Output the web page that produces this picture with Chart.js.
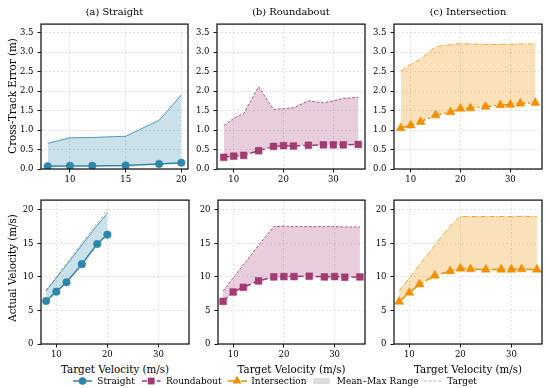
<!DOCTYPE html>
<html><head><meta charset="utf-8">
<script src="https://cdn.jsdelivr.net/npm/chart.js@4.4.1/dist/chart.umd.min.js"></script>
<style>
body{margin:0;width:550px;height:388px;background:#fff;position:relative;overflow:hidden;font-family:"DejaVu Serif",serif;color:#000}
canvas{position:absolute}
.t{position:absolute;white-space:nowrap;line-height:1;color:#000}
svg{position:absolute;left:0;top:0}
</style></head><body>
<script>
// ---- data ----
const speedsStraight = [8, 10, 12, 15, 18, 20];
const speedsTurn = [8, 10, 12, 15, 18, 20, 22, 25, 28, 30, 32, 35];

const cteStraightMean = [0.07, 0.08, 0.08, 0.09, 0.13, 0.16];
const cteStraightMax  = [0.66, 0.80, 0.81, 0.84, 1.25, 1.90];
const cteRoundMean = [0.30, 0.33, 0.35, 0.47, 0.58, 0.60, 0.59, 0.61, 0.62, 0.62, 0.62, 0.63];
const cteRoundMax  = [1.11, 1.30, 1.42, 2.11, 1.53, 1.55, 1.57, 1.75, 1.70, 1.75, 1.81, 1.84];
const cteInterMean = [1.05, 1.12, 1.21, 1.38, 1.46, 1.55, 1.56, 1.60, 1.64, 1.65, 1.68, 1.70];
const cteInterMax  = [2.51, 2.69, 2.82, 3.14, 3.19, 3.22, 3.21, 3.20, 3.20, 3.20, 3.21, 3.21];

const velStraightMean = [6.4, 7.8, 9.2, 11.9, 14.9, 16.3];
const velStraightMax  = [7.9, 9.85, 11.8, 14.75, 17.65, 19.5];
const velStraightTarget = [8, 10, 12, 15, 18, 20];
const velRoundMean = [6.35, 7.75, 8.45, 9.4, 10.0, 10.05, 10.05, 10.1, 10.0, 10.05, 9.95, 10.0];
const velRoundMax  = [7.9, 9.85, 11.8, 14.7, 17.5, 17.55, 17.5, 17.5, 17.5, 17.5, 17.45, 17.45];
const velInterMean = [6.3, 7.65, 8.9, 10.2, 10.85, 11.25, 11.15, 11.1, 11.1, 11.1, 11.15, 11.1];
const velInterMax  = [7.9, 9.85, 11.8, 14.7, 17.6, 19.0, 19.0, 19.0, 19.0, 19.0, 19.0, 19.0];

const xTicksStraightTop = [10, 15, 20];
const xTicksWide = [10, 20, 30];
const yTicksCte = [0, 0.5, 1.0, 1.5, 2.0, 2.5, 3.0, 3.5];
const yTicksVel = [0, 5, 10, 15, 20];

const titles = ['(a) Straight', '(b) Roundabout', '(c) Intersection'];
const legendLabels = ['Straight', 'Roundabout', 'Intersection', 'Mean\u2013Max Range', 'Target'];

// ---- styles ----
const FAM = '"DejaVu Serif", serif';
const C1 = '#2E86AB', C2 = '#A23B72', C3 = '#F18F01';
const F1 = 'rgba(46,134,171,0.25)', F2 = 'rgba(162,59,114,0.25)', F3 = 'rgba(241,143,1,0.27)';
const L1 = 'rgba(46,134,171,0.9)', L2 = 'rgba(162,59,114,0.9)', L3 = 'rgba(241,143,1,0.9)';
const DASH = [6, 3], DASHDOT = [9, 3, 2, 3];

const framePlugin = {
  id: 'frame',
  afterDraw(chart) {
    const a = chart.chartArea, ctx = chart.ctx;
    ctx.save();
    ctx.strokeStyle = '#111'; ctx.lineWidth = 1.25;
    ctx.strokeRect(a.left, a.top, a.right - a.left, a.bottom - a.top);
    ctx.restore();
  }
};

function pts(xs, ys) { return xs.map((x, i) => ({ x: x, y: ys[i] })); }

function meanDs(xs, ys, col, style, r, dash) {
  return { data: pts(xs, ys), borderColor: col, backgroundColor: col, borderWidth: 1.5,
    borderDash: dash, pointStyle: style, pointRadius: r, pointBackgroundColor: col,
    pointBorderColor: col, pointBorderWidth: 0.5, fill: false };
}
function maxDs(xs, ys, lcol, fcol, dash) {
  return { data: pts(xs, ys), borderColor: lcol, backgroundColor: fcol, borderWidth: 0.9,
    borderDash: dash, pointRadius: 0, fill: '-1' };
}
function targetDs(xs, ys) {
  return { data: pts(xs, ys), borderColor: 'rgba(110,110,110,0.6)', borderWidth: 0.9,
    borderDash: [3, 2], pointRadius: 0, fill: false };
}

function panel(box, xMin, xMax, xTicks, yMin, yMax, yTicks, yFmt, datasets) {
  const PL = 32, PR = 4, PT = 4, PB = 16;
  const W = box.w + PL + PR, H = box.h + PT + PB;
  const c = document.createElement('canvas');
  c.width = W; c.height = H;
  c.style.left = (box.l - PL) + 'px'; c.style.top = (box.t - PT) + 'px';
  c.style.width = W + 'px'; c.style.height = H + 'px';
  document.body.appendChild(c);
  const grid = { color: 'rgba(0,0,0,0.14)', lineWidth: 0.8, tickLength: 3.5, tickColor: '#000', tickWidth: 0.9, drawTicks: true };
  new Chart(c, {
    type: 'line',
    data: { datasets: datasets },
    options: {
      responsive: false, animation: false, devicePixelRatio: 1,
      layout: { padding: { top: PT, right: PR, left: 0, bottom: 0 }, autoPadding: false },
      plugins: { legend: { display: false }, tooltip: { enabled: false } },
      elements: { line: { tension: 0 } },
      scales: {
        x: { type: 'linear', min: xMin, max: xMax,
          afterFit: s => { s.height = PB; },
          afterBuildTicks: s => { s.ticks = xTicks.map(v => ({ value: v })); },
          ticks: { color: '#000', font: { family: FAM, size: 8.5 }, padding: 2, maxRotation: 0, minRotation: 0, autoSkip: false, callback: v => String(v) },
          grid: grid, border: { display: false, dash: [2, 2] } },
        y: { type: 'linear', min: yMin, max: yMax,
          afterFit: s => { s.width = PL; },
          afterBuildTicks: s => { s.ticks = yTicks.map(v => ({ value: v })); },
          ticks: { color: '#000', font: { family: FAM, size: 8.5 }, padding: 4, autoSkip: false, callback: yFmt },
          grid: grid, border: { display: false, dash: [2, 2] } }
      }
    },
    plugins: [framePlugin]
  });
}

function txt(s, cx, cy, size, rot) {
  const d = document.createElement('div');
  d.className = 't'; d.textContent = s;
  d.style.fontSize = size + 'px';
  d.style.left = cx + 'px'; d.style.top = cy + 'px';
  d.style.transform = 'translate(-50%,-50%)' + (rot ? ' rotate(' + rot + 'deg)' : '');
  document.body.appendChild(d);
}
function txtL(s, x, cy, size) {
  const d = document.createElement('div');
  d.className = 't'; d.textContent = s;
  d.style.fontSize = size + 'px';
  d.style.left = x + 'px'; d.style.top = cy + 'px';
  d.style.transform = 'translateY(-50%)';
  document.body.appendChild(d);
}

const fmt1 = v => Number(v).toFixed(1);
const fmt0 = v => String(v);

const topBoxes = [ { l: 41, t: 19, w: 147, h: 150 }, { l: 217, t: 19, w: 148, h: 150 }, { l: 394, t: 19, w: 148, h: 150 } ];
const botBoxes = [ { l: 41, t: 195, w: 148, h: 149 }, { l: 218, t: 195, w: 147, h: 149 }, { l: 394, t: 195, w: 148, h: 149 } ];

// top row: cross-track error
panel(topBoxes[0], 7.4, 20.6, xTicksStraightTop, 0, 3.72, yTicksCte, fmt1, [
  meanDs(speedsStraight, cteStraightMean, C1, 'circle', 3.8, []),
  maxDs(speedsStraight, cteStraightMax, L1, F1, [])
]);
panel(topBoxes[1], 6.65, 36.35, xTicksWide, 0, 3.72, yTicksCte, fmt1, [
  meanDs(speedsTurn, cteRoundMean, C2, 'rect', 4.8, DASH),
  maxDs(speedsTurn, cteRoundMax, L2, F2, [3, 1.5])
]);
panel(topBoxes[2], 6.65, 36.35, xTicksWide, 0, 3.72, yTicksCte, fmt1, [
  meanDs(speedsTurn, cteInterMean, C3, 'triangle', 5.2, DASHDOT),
  maxDs(speedsTurn, cteInterMax, L3, F3, [5, 1.5, 1, 1.5])
]);
// bottom row: velocity
panel(botBoxes[0], 7, 36, xTicksWide, 0, 21.45, yTicksVel, fmt0, [
  meanDs(speedsStraight, velStraightMean, C1, 'circle', 3.8, []),
  maxDs(speedsStraight, velStraightMax, L1, F1, []),
  targetDs(speedsStraight, velStraightTarget)
]);
panel(botBoxes[1], 7, 36, xTicksWide, 0, 21.45, yTicksVel, fmt0, [
  meanDs(speedsTurn, velRoundMean, C2, 'rect', 4.8, DASH),
  maxDs(speedsTurn, velRoundMax, L2, F2, [3, 1.5])
]);
panel(botBoxes[2], 7, 36, xTicksWide, 0, 21.45, yTicksVel, fmt0, [
  meanDs(speedsTurn, velInterMean, C3, 'triangle', 5.2, DASHDOT),
  maxDs(speedsTurn, velInterMax, L3, F3, [5, 1.5, 1, 1.5])
]);

// titles and axis labels
topBoxes.forEach((b, i) => txt(titles[i], b.l + b.w / 2, 11.5, 9.8));
botBoxes.forEach(b => txt('Target Velocity (m/s)', b.l + b.w / 2, 369, 10.3));
txt('Cross-Track Error (m)', 11.5, 96, 10.3, -90);
txt('Actual Velocity (m/s)', 11.5, 268, 10.3, -90);

// legend
const NS = 'http://www.w3.org/2000/svg';
const svg = document.createElementNS(NS, 'svg');
svg.setAttribute('width', 550); svg.setAttribute('height', 388);
function el(tag, attrs) { const e = document.createElementNS(NS, tag); for (const k in attrs) e.setAttribute(k, attrs[k]); svg.appendChild(e); }
const LY = 381;
el('line', { x1: 73, y1: LY, x2: 92, y2: LY, stroke: C1, 'stroke-width': 1.5 });
el('circle', { cx: 82.5, cy: LY, r: 3.8, fill: C1 });
el('line', { x1: 142, y1: LY, x2: 160.5, y2: LY, stroke: C2, 'stroke-width': 1.5, 'stroke-dasharray': '5 2.5' });
el('rect', { x: 147.8, y: LY - 3.4, width: 6.8, height: 6.8, fill: C2 });
el('line', { x1: 227.5, y1: LY, x2: 247, y2: LY, stroke: C3, 'stroke-width': 1.5, 'stroke-dasharray': '7 2.5 1.5 2.5' });
el('polygon', { points: '237,' + (LY - 5.2) + ' 232.5,' + (LY + 2.6) + ' 241.5,' + (LY + 2.6), fill: C3 });
el('rect', { x: 313, y: LY - 3, width: 17, height: 6, fill: '#dcdcdc' });
el('line', { x1: 423.5, y1: LY, x2: 441, y2: LY, stroke: 'rgba(110,110,110,0.6)', 'stroke-width': 0.9, 'stroke-dasharray': '3 2' });
document.body.appendChild(svg);
const legX = [97.3, 166, 251.3, 336.7, 447.3];
legendLabels.forEach((s, i) => txtL(s, legX[i], LY, 9));
</script>
</body></html>
